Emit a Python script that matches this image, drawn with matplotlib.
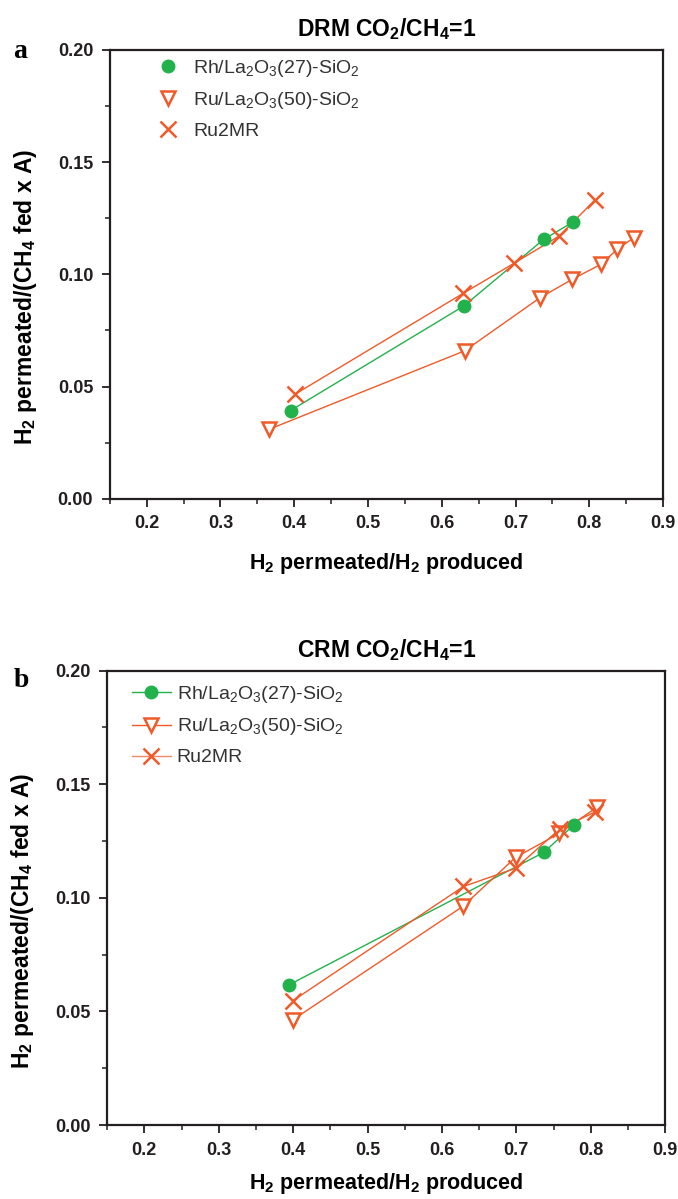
import numpy as np
import matplotlib
matplotlib.use('Agg')
import matplotlib.pyplot as plt
from matplotlib.ticker import MultipleLocator, FormatStrFormatter

plt.rcParams['font.family'] = ['Liberation Sans', 'DejaVu Sans']
plt.rcParams['mathtext.fontset'] = 'custom'
plt.rcParams['mathtext.rm'] = 'Liberation Sans'
plt.rcParams['mathtext.bf'] = 'Liberation Sans:bold'

green = '#22b24c'
orange = '#f05a28'
axcol = '#231f20'

# panel a: DRM
a_rh_x = [0.395, 0.630, 0.738, 0.778]
a_rh_y = [0.0393, 0.0859, 0.1155, 0.1233]
a_ru_x = [0.3655, 0.631, 0.7325, 0.7765, 0.816, 0.838, 0.860]
a_ru_y = [0.0309, 0.0659, 0.0894, 0.0977, 0.1045, 0.1112, 0.1162]
a_mr_x = [0.4007, 0.629, 0.698, 0.759, 0.808]
a_mr_y = [0.0465, 0.0915, 0.1049, 0.117, 0.1332]

# panel b: CRM
b_rh_x = [0.395, 0.737, 0.777]
b_rh_y = [0.0618, 0.120, 0.132]
b_ru_x = [0.400, 0.628, 0.699, 0.758, 0.808]
b_ru_y = [0.0464, 0.0962, 0.1178, 0.1284, 0.1398]
b_mr_x = [0.400, 0.629, 0.699, 0.759, 0.806]
b_mr_y = [0.0548, 0.105, 0.113, 0.1305, 0.1378]

labels = [r'Rh/La$_2$O$_3$(27)-SiO$_2$', r'Ru/La$_2$O$_3$(50)-SiO$_2$', 'Ru2MR']
titles = [r'DRM CO$_\mathbf{2}$/CH$_\mathbf{4}$=1', r'CRM CO$_\mathbf{2}$/CH$_\mathbf{4}$=1']
xlab = r'H$_\mathbf{2}$ permeated/H$_\mathbf{2}$ produced'
ylab = r'H$_\mathbf{2}$ permeated/(CH$_\mathbf{4}$ fed x A)'

fig = plt.figure(figsize=(6.78, 11.99), dpi=100)
ax_a = fig.add_axes([0.162, 0.584, 0.816, 0.3745])
ax_b = fig.add_axes([0.158, 0.0617, 0.823, 0.379])

panels = [
    (ax_a, a_rh_x, a_rh_y, a_ru_x, a_ru_y, a_mr_x, a_mr_y),
    (ax_b, b_rh_x, b_rh_y, b_ru_x, b_ru_y, b_mr_x, b_mr_y),
]

for i, (ax, rx, ry, ux, uy, mx, my) in enumerate(panels):
    ax.plot(rx, ry, color=green, lw=1.0, zorder=2)
    ax.plot(ux, uy, color=orange, lw=1.0, zorder=2)
    ax.plot(mx, my, color=orange, lw=1.0, zorder=2)
    ax.plot(rx, ry, 'o', color=green, ms=9, zorder=3)
    ax.plot(ux, uy, 'v', mfc='white', mec=orange, ms=10, mew=1.8, zorder=3)
    ax.plot(mx, my, 'x', color=orange, ms=11, mew=1.8, zorder=3)

    # legend handles: markers only in (a), line + marker in (b)
    ls = '-' if i == 1 else 'none'
    h1, = ax.plot([], [], marker='o', color=green, ms=9, lw=1.0, ls=ls)
    h2, = ax.plot([], [], marker='v', mfc='white', mec=orange, color=orange,
                  ms=10, mew=1.8, lw=1.0, ls=ls)
    h3, = ax.plot([], [], marker='x', mec=orange, color='#f4896a', ms=11, mew=1.8,
                  lw=1.0, ls=ls)
    leg = ax.legend([h1, h2, h3], labels, loc='upper left', frameon=False,
                    fontsize=14, handlelength=2.0 if i == 1 else 1.2,
                    handletextpad=0.3 if i == 1 else 0.7,
                    borderaxespad=0.3 if i == 1 else 0.0,
                    labelspacing=0.58, bbox_to_anchor=(0.02 if i == 1 else 0.07, 1.0))
    for t in leg.get_texts():
        t.set_color('#333333')

    ax.set_xlim(0.15, 0.9)
    ax.set_ylim(0.0, 0.2)
    ax.xaxis.set_major_locator(MultipleLocator(0.1))
    ax.xaxis.set_minor_locator(MultipleLocator(0.05))
    ax.yaxis.set_major_locator(MultipleLocator(0.05))
    ax.yaxis.set_minor_locator(MultipleLocator(0.025))
    ax.xaxis.set_major_formatter(FormatStrFormatter('%.1f'))
    ax.yaxis.set_major_formatter(FormatStrFormatter('%.2f'))
    ax.set_xticks([0.2, 0.3, 0.4, 0.5, 0.6, 0.7, 0.8, 0.9])
    ax.tick_params(axis='both', which='major', direction='out', length=6,
                   width=1.3, labelsize=13, colors=axcol, pad=6)
    ax.tick_params(axis='both', which='minor', direction='out', length=3.5,
                   width=1.1, colors=axcol)
    for lab in ax.get_xticklabels() + ax.get_yticklabels():
        lab.set_fontweight('bold')
    for s in ax.spines.values():
        s.set_linewidth(1.6)
        s.set_color(axcol)

    ax.set_xlabel(xlab, fontsize=15.5, fontweight='bold', labelpad=13 if i == 0 else 9)
    ax.set_ylabel(ylab, fontsize=16.5, fontweight='bold')
    ax.yaxis.set_label_coords(-0.128, 0.45)
    ax.set_title(titles[i], fontsize=16.5, fontweight='bold', pad=10)

fig.text(0.02, 0.952, 'a', fontsize=20, fontweight='bold', family='Liberation Serif')
fig.text(0.02, 0.427, 'b', fontsize=20, fontweight='bold', family='Liberation Serif')

fig.savefig('out.png', dpi=100)
